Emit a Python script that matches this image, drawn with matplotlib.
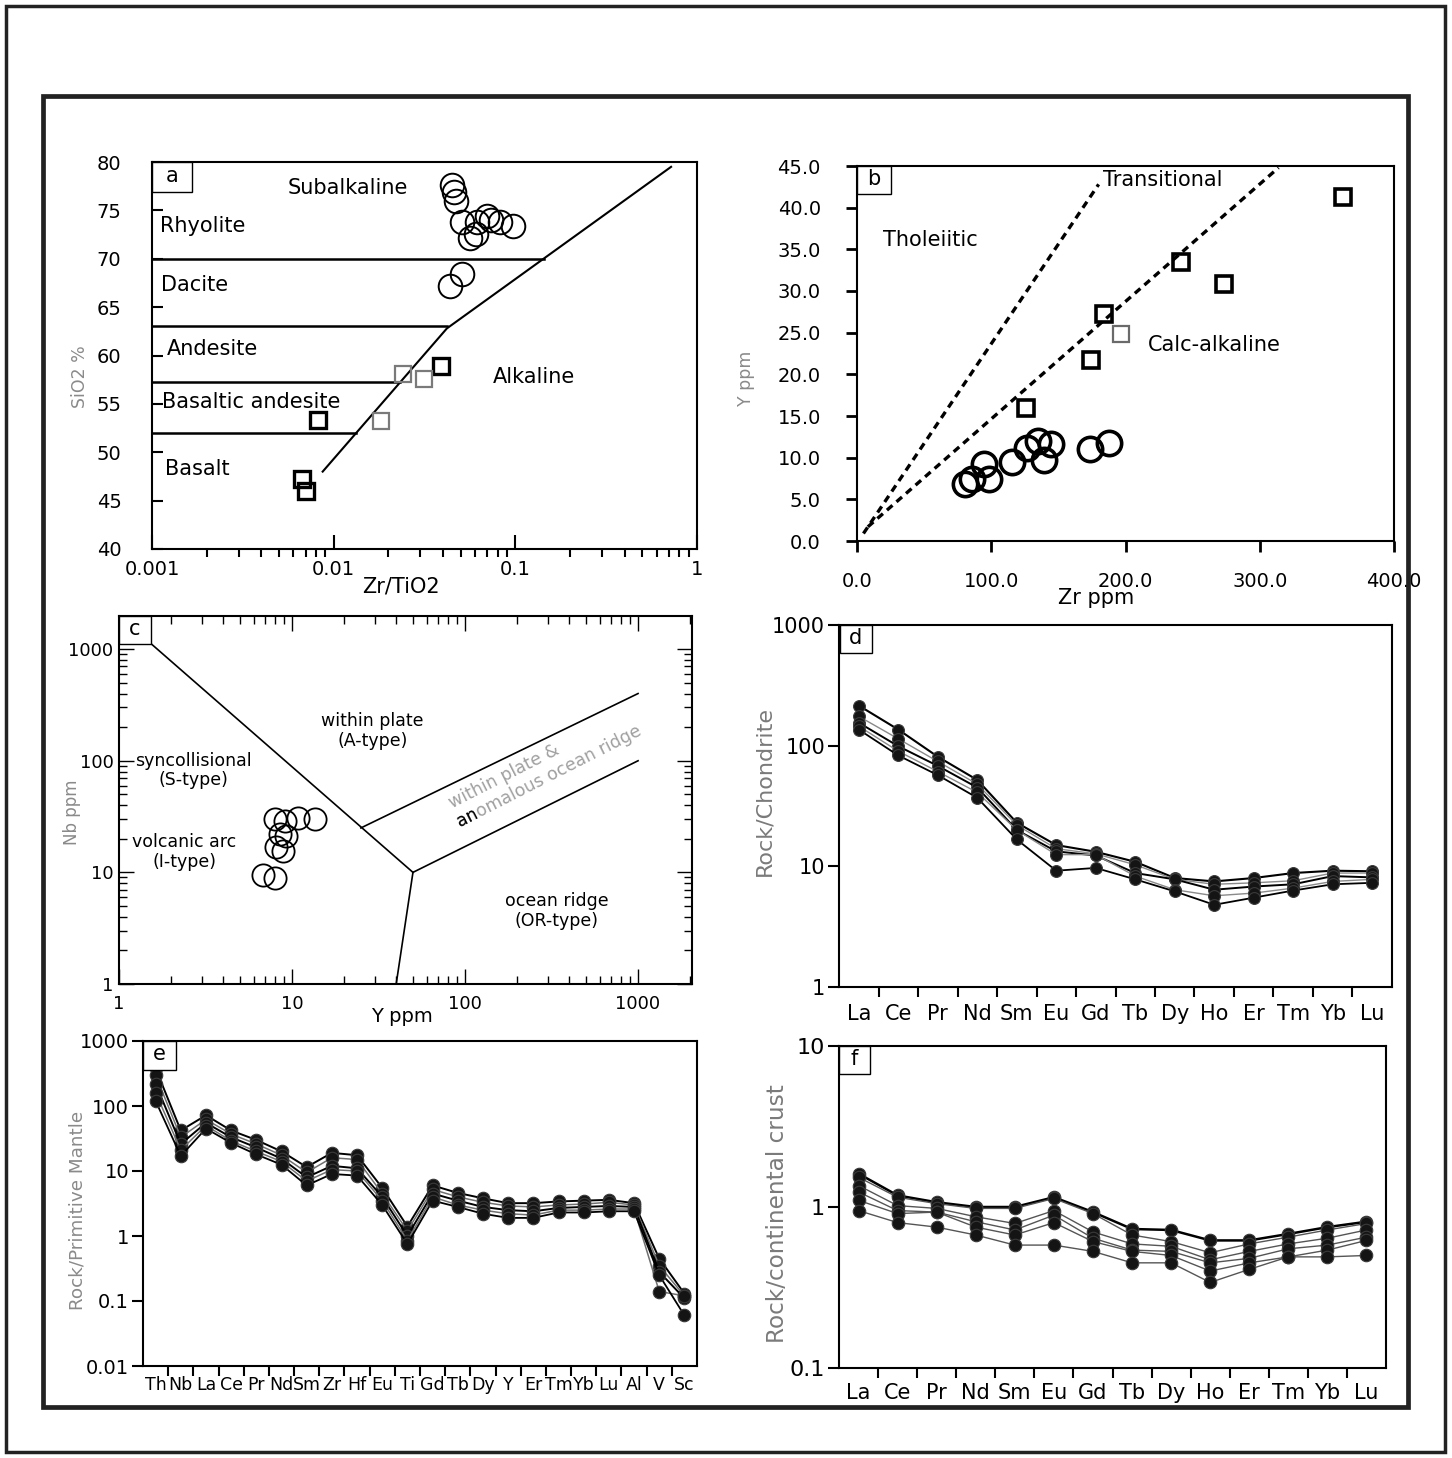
import numpy as np
import matplotlib
matplotlib.use("Agg")
import matplotlib.pyplot as plt
from matplotlib.patches import Rectangle
from matplotlib.ticker import NullFormatter, NullLocator

plt.rcParams['font.family'] = ['DejaVu Sans']
plt.rcParams['axes.linewidth'] = 1.5

# ---------------- data ----------------
# a : SiO2 % vs Zr/TiO2
a_circ_x = [0.0448, 0.0459, 0.0470, 0.0698, 0.0508, 0.0615, 0.0735, 0.0822, 0.0970, 0.0562, 0.0607, 0.0508, 0.0436]
a_circ_y = [77.6, 76.9, 76.0, 74.4, 73.8, 73.8, 74.0, 73.8, 73.4, 72.1, 72.6, 68.4, 67.2]
a_sq_x = [0.039, 0.0082, 0.0067, 0.0070]
a_sq_y = [58.9, 53.3, 47.2, 46.0]
a_sq2_x = [0.0241, 0.0315, 0.0182]
a_sq2_y = [58.1, 57.6, 53.2]
a_div_x = [0.0087, 0.042, 0.72]
a_div_y = [48.0, 62.8, 79.5]
a_field_y = [70, 63, 57.3, 52]
a_field_xend = [0.143, 0.042, 0.0232, 0.0133]

# b : Y ppm vs Zr ppm
b_circ_x = [80.8, 85.6, 98.5, 94.7, 115.7, 126.7, 135.0, 139.0, 144.7, 173.8, 188.0]
b_circ_y = [6.9, 7.5, 7.5, 9.3, 9.5, 11.2, 12.0, 9.7, 11.7, 11.0, 11.8]
b_sq_x = [361.9, 241.7, 273.0, 184.2, 174.5, 126.0]
b_sq_y = [41.3, 33.5, 30.8, 27.2, 21.7, 16.0]
b_sq2_x = [196.4]
b_sq2_y = [24.9]
b_trans_x = [4.8, 180.0]
b_trans_y = [0.9, 42.8]
b_calc_x = [8.1, 314.0]
b_calc_y = [1.7, 44.8]

# c : Nb vs Y (Pearce et al.)
c_circ_x = [7.94, 9.12, 10.9, 13.6, 8.5, 9.27, 8.08, 8.87, 6.8, 7.94]
c_circ_y = [30.0, 28.6, 30.7, 30.0, 22.0, 21.0, 16.8, 15.4, 9.46, 8.83]
c_segments = [((1.52, 50), (1130, 10)), ((50, 40), (10, 1)),
              ((25, 1000), (25, 400)), ((50, 1000), (10, 100))]

# d : chondrite normalised REE
ree = ['La', 'Ce', 'Pr', 'Nd', 'Sm', 'Eu', 'Gd', 'Tb', 'Dy', 'Ho', 'Er', 'Tm', 'Yb', 'Lu']
d_s1 = [215, 136, 81, 52, 23, 15, 13.2, 10.9, 8.0, 7.5, 8.0, 8.8, 9.2, 9.1]
d_s2 = [175, 114, 74, 48, 22, 14, 12.7, 10.3, 7.8, 7.1, 7.3, 7.6, 8.8, 8.8]
d_s3 = [155, 99, 68, 45, 20, 13.3, 12.3, 8.8, 7.8, 6.4, 6.8, 7.1, 8.3, 8.1]
d_s4 = [145, 90, 61, 41, 20, 12.5, 12.5, 8.3, 6.4, 5.7, 6.0, 6.6, 7.5, 7.8]
d_s5 = [136, 83, 57, 37, 16.7, 9.2, 9.7, 7.8, 6.2, 4.8, 5.5, 6.3, 7.1, 7.3]

# e : primitive mantle normalised
pm = ['Th', 'Nb', 'La', 'Ce', 'Pr', 'Nd', 'Sm', 'Zr', 'Hf', 'Eu', 'Ti', 'Gd', 'Tb', 'Dy', 'Y',
      'Er', 'Tm', 'Yb', 'Lu', 'Al', 'V', 'Sc']
e_s1 = [380, 42, 72, 42, 30, 20, 11.5, 19, 17.5, 5.5, 1.4, 6.0, 4.6, 3.8, 3.2, 3.2, 3.4, 3.5, 3.6, 3.2, 0.45, 0.13]
e_s2 = [300, 33, 62, 37, 26, 17.5, 9.5, 16, 15, 4.5, 1.2, 5.2, 4.0, 3.3, 2.9, 2.8, 3.0, 3.1, 3.3, 3.0, 0.35, 0.12]
e_s3 = [220, 26, 55, 33, 23, 15.5, 8.0, 12, 11, 4.0, 1.0, 4.5, 3.5, 2.8, 2.5, 2.4, 2.7, 2.8, 2.9, 2.8, 0.28, 0.11]
e_s4 = [160, 21, 50, 29, 20, 14, 7.0, 10.5, 10, 3.5, 0.85, 4.0, 3.0, 2.5, 2.2, 2.1, 2.5, 2.5, 2.6, 2.6, 0.14, 0.12]
e_s5 = [120, 17, 45, 27, 18, 12.5, 6.0, 9.0, 8.5, 3.0, 0.75, 3.5, 2.8, 2.2, 1.9, 1.9, 2.3, 2.3, 2.4, 2.4, 0.25, 0.06]

# f : continental crust normalised REE
f_s1 = [1.61, 1.18, 1.07, 1.00, 1.00, 1.15, 0.93, 0.73, 0.72, 0.62, 0.62, 0.68, 0.75, 0.81]
f_s2 = [1.53, 1.15, 1.05, 0.98, 0.98, 1.13, 0.91, 0.67, 0.61, 0.52, 0.59, 0.65, 0.72, 0.79]
f_s3 = [1.36, 1.02, 0.98, 0.87, 0.79, 0.95, 0.70, 0.59, 0.57, 0.47, 0.53, 0.59, 0.64, 0.72]
f_s4 = [1.24, 0.95, 0.93, 0.81, 0.72, 0.89, 0.64, 0.54, 0.53, 0.45, 0.48, 0.55, 0.58, 0.65]
f_s5 = [1.10, 0.91, 0.93, 0.75, 0.67, 0.80, 0.61, 0.53, 0.50, 0.40, 0.45, 0.49, 0.54, 0.62]
f_s6 = [0.95, 0.80, 0.75, 0.67, 0.58, 0.58, 0.53, 0.45, 0.45, 0.34, 0.41, 0.49, 0.49, 0.50]

# ---------------- figure ----------------
W, H = 1452, 1458
fig = plt.figure(figsize=(W / 100, H / 100), dpi=100)


def rect(x0, y0, x1, y1):
    return [x0 / W, 1 - y1 / H, (x1 - x0) / W, (y1 - y0) / H]


def ftext(x, y, s, **kw):
    return fig.text(x / W, 1 - y / H, s, ha='center', va='center', **kw)


def tag(x0, y0, x1, y1, s, fs=15):
    fig.add_artist(Rectangle((x0 / W, 1 - y1 / H), (x1 - x0) / W, (y1 - y0) / H,
                             transform=fig.transFigure, fc='white', ec='k', lw=1.0, zorder=5))
    ftext((x0 + x1) / 2, (y0 + y1) / 2 - 1, s, fontsize=fs, zorder=6)


# outer frames
fig.add_artist(Rectangle((6 / W, 1 - 1452 / H), 1439 / W, 1446 / H, transform=fig.transFigure,
                         fill=False, ec='#222222', lw=2.5))
fig.add_artist(Rectangle((43 / W, 1 - 1407 / H), 1365 / W, 1311 / H, transform=fig.transFigure,
                         fill=False, ec='#222222', lw=3.4))

# ---- a ----
ax = fig.add_axes(rect(152, 162, 697, 549))
ax.set_xscale('log')
ax.set_xlim(0.001, 1)
ax.set_ylim(40, 80)
ax.plot(a_div_x, a_div_y, 'k-', lw=1.5)
for yv, xe in zip(a_field_y, a_field_xend):
    ax.plot([0.001, xe], [yv, yv], 'k-', lw=1.8)
ax.plot(a_circ_x, a_circ_y, 'o', ms=17, mfc='none', mec='k', mew=1.4)
ax.plot(a_sq_x, a_sq_y, 's', ms=11, mfc='none', mec='k', mew=2.4)
ax.plot(a_sq2_x, a_sq2_y, 's', ms=11, mfc='none', mec='#7a7a7a', mew=1.6)
ax.set_xticks([0.001, 0.01, 0.1, 1])
ax.set_xticklabels(['0.001', '0.01', '0.1', '1'])
ax.xaxis.set_minor_formatter(NullFormatter())
ax.set_yticks(np.arange(40, 81, 5))
ax.tick_params(direction='in', top=False, right=False, labelsize=14)
ax.tick_params(axis='y', length=8, width=1.5, pad=22)
ax.tick_params(axis='x', which='major', length=10, width=1.5, pad=8)
ax.tick_params(axis='x', which='minor', length=6, width=1.5)
for s, x, y, ha in [('Subalkaline', 0.0120, 77.3, 'center'), ('Rhyolite', 0.00111, 73.4, 'left'),
                    ('Dacite', 0.00112, 67.3, 'left'), ('Andesite', 0.00121, 60.7, 'left'),
                    ('Basaltic andesite', 0.00114, 55.2, 'left'), ('Basalt', 0.00118, 48.3, 'left'),
                    ('Alkaline', 0.126, 57.8, 'center')]:
    ax.text(x, y, s, ha=ha, va='center', fontsize=15)
tag(152, 162, 192, 192, 'a')
ftext(401, 587, 'Zr/TiO2', fontsize=15)
ftext(80, 377, 'SiO2 %', fontsize=12.5, color='#8a8a8a', rotation=90)

# ---- b ----
ax = fig.add_axes(rect(857, 166, 1394, 541))
ax.set_xlim(0, 400)
ax.set_ylim(0, 45)
ax.plot(b_trans_x, b_trans_y, color='k', lw=2.4, ls=(0, (2.2, 1.6)))
ax.plot(b_calc_x, b_calc_y, color='k', lw=2.4, ls=(0, (2.2, 1.6)))
ax.plot(b_circ_x, b_circ_y, 'o', ms=17.5, mfc='none', mec='k', mew=2.6)
ax.plot(b_sq_x, b_sq_y, 's', ms=12, mfc='none', mec='k', mew=2.6)
ax.plot(b_sq2_x, b_sq2_y, 's', ms=12, mfc='none', mec='#6a6a6a', mew=1.6)
ax.set_xticks(np.arange(0, 401, 100))
ax.set_xticklabels(['%.1f' % v for v in np.arange(0, 401, 100)])
ax.set_yticks(np.arange(0, 46, 5))
ax.set_yticklabels(['%.1f' % v for v in np.arange(0, 46, 5)])
ax.tick_params(direction='out', labelsize=14, width=2)
ax.tick_params(axis='y', length=8, pad=18)
ax.tick_params(axis='x', length=8, pad=14)
ax.text(54.3, 36.1, 'Tholeiitic', ha='center', va='center', fontsize=15)
ax.text(227.5, 43.3, 'Transitional', ha='center', va='center', fontsize=15)
ax.text(266.0, 23.5, 'Calc-alkaline', ha='center', va='center', fontsize=15)
tag(857, 166, 891, 194, 'b')
ftext(1096, 598, 'Zr ppm', fontsize=15)
ftext(746, 378, 'Y ppm', fontsize=12.5, color='#8a8a8a', rotation=90)

# ---- c ----
ax = fig.add_axes(rect(119, 616, 692, 984))
ax.set_xscale('log')
ax.set_yscale('log')
ax.set_xlim(1, 2050)
ax.set_ylim(1, 1980)
for xs, ys in c_segments:
    ax.plot(xs, ys, 'k-', lw=1.2)
ax.plot(c_circ_x, c_circ_y, 'o', ms=16, mfc='none', mec='k', mew=1.3)
ax.set_xticks([1, 10, 100, 1000])
ax.set_xticklabels(['1', '10', '100', '1000'])
ax.set_yticks([1, 10, 100, 1000])
ax.set_yticklabels(['1', '10', '100', '1000'])
ax.xaxis.set_minor_formatter(NullFormatter())
ax.yaxis.set_minor_formatter(NullFormatter())
ax.tick_params(which='both', direction='in', top=True, right=True, labelsize=13, width=1.0)
ax.tick_params(which='major', length=11)
ax.tick_params(which='minor', length=6)
ax.tick_params(axis='y', pad=4)
ax.tick_params(axis='x', pad=8)
ax.text(29.1, 184, 'within plate\n(A-type)', ha='center', va='center', fontsize=12.5, linespacing=1.1)
ax.text(2.68, 82, 'syncollisional\n(S-type)', ha='center', va='center', fontsize=12.5, linespacing=1.1)
ax.text(2.38, 15.2, 'volcanic arc\n(I-type)', ha='center', va='center', fontsize=12.5, linespacing=1.1)
ax.text(337, 4.5, 'ocean ridge\n(OR-type)', ha='center', va='center', fontsize=12.5, linespacing=1.1)
ax.text(84.3, 37.6, 'within plate &', rotation=27, rotation_mode='anchor', ha='left', va='baseline',
        fontsize=12.5, color='#a0a0a0')
ax.text(93.8, 25.4, 'anomalous ocean ridge', rotation=27, rotation_mode='anchor', ha='left',
        va='baseline', fontsize=12.5, color='#a0a0a0')
ax.text(93.8, 25.4, 'an', rotation=27, rotation_mode='anchor', ha='left', va='baseline',
        fontsize=12.5, color='k')
tag(119, 616, 151, 644, 'c')
ftext(402, 1017, 'Y ppm', fontsize=14)
ftext(72, 812, 'Nb ppm', fontsize=12, color='#8a8a8a', rotation=90)


# ---- spider diagrams ----
def spider(ax, cats, rows, colors, widths, ms, ylim, yticks, ylabels, xfs, yfs, xpad):
    x = np.arange(len(cats))
    for r, c, w in zip(rows, colors, widths):
        ax.plot(x, r, '-', color=c, lw=w, marker='o', ms=ms, mfc='#141414', mec='#3a3a3a', mew=0.8)
    ax.set_yscale('log')
    ax.set_ylim(*ylim)
    ax.set_xlim(-0.5, len(cats) - 0.5)
    ax.set_xticks(x)
    ax.set_xticklabels(cats, fontsize=xfs)
    ax.set_xticks(x[:-1] + 0.5, minor=True)
    ax.tick_params(axis='x', which='major', length=0, pad=xpad)
    ax.tick_params(axis='x', which='minor', length=7, width=1.5, direction='out')
    ax.set_yticks(yticks)
    ax.set_yticklabels(ylabels, fontsize=yfs)
    ax.yaxis.set_minor_locator(NullLocator())
    ax.tick_params(axis='y', length=8, width=1.5, direction='out', pad=2)


ax = fig.add_axes(rect(839, 625, 1392, 987))
spider(ax, ree, [d_s1, d_s2, d_s3, d_s4, d_s5], ['k', '#8a8a8a', 'k', '#8a8a8a', 'k'],
       [1.5, 1.0, 1.4, 1.0, 1.3], 8.5, (1, 1000), [1, 10, 100, 1000], ['1', '10', '100', '1000'],
       15, 15, 12)
tag(840, 625, 872, 653, 'd')
ftext(764, 791, 'Rock/Chondrite', fontsize=16, color='#7a7a7a', rotation=90)

ax = fig.add_axes(rect(143, 1041, 697, 1366))
spider(ax, pm, [e_s1, e_s2, e_s3, e_s4, e_s5], ['k', '#707070', 'k', '#707070', 'k'],
       [1.4, 1.1, 1.4, 1.1, 1.3], 9, (0.01, 1000), [0.01, 0.1, 1, 10, 100, 1000],
       ['0.01', '0.1', '1', '10', '100', '1000'], 12.5, 14, 7)
tag(143, 1041, 176, 1070, 'e')
ftext(77, 1210, 'Rock/Primitive Mantle', fontsize=13.2, color='#8a8a8a', rotation=90)

ax = fig.add_axes(rect(839, 1046, 1386, 1368))
spider(ax, ree, [f_s1, f_s2, f_s3, f_s4, f_s5, f_s6],
       ['k', '#555555', '#555555', '#555555', '#555555', '#555555'],
       [1.8, 1.0, 1.0, 1.0, 1.0, 1.0], 9, (0.1, 10), [0.1, 1, 10], ['0.1', '1', '10'],
       15, 16, 11)
tag(839, 1046, 870, 1074, 'f')
ftext(777, 1214, 'Rock/continental crust', fontsize=16.7, color='#7a7a7a', rotation=90)

fig.savefig('out.png', dpi=100)
